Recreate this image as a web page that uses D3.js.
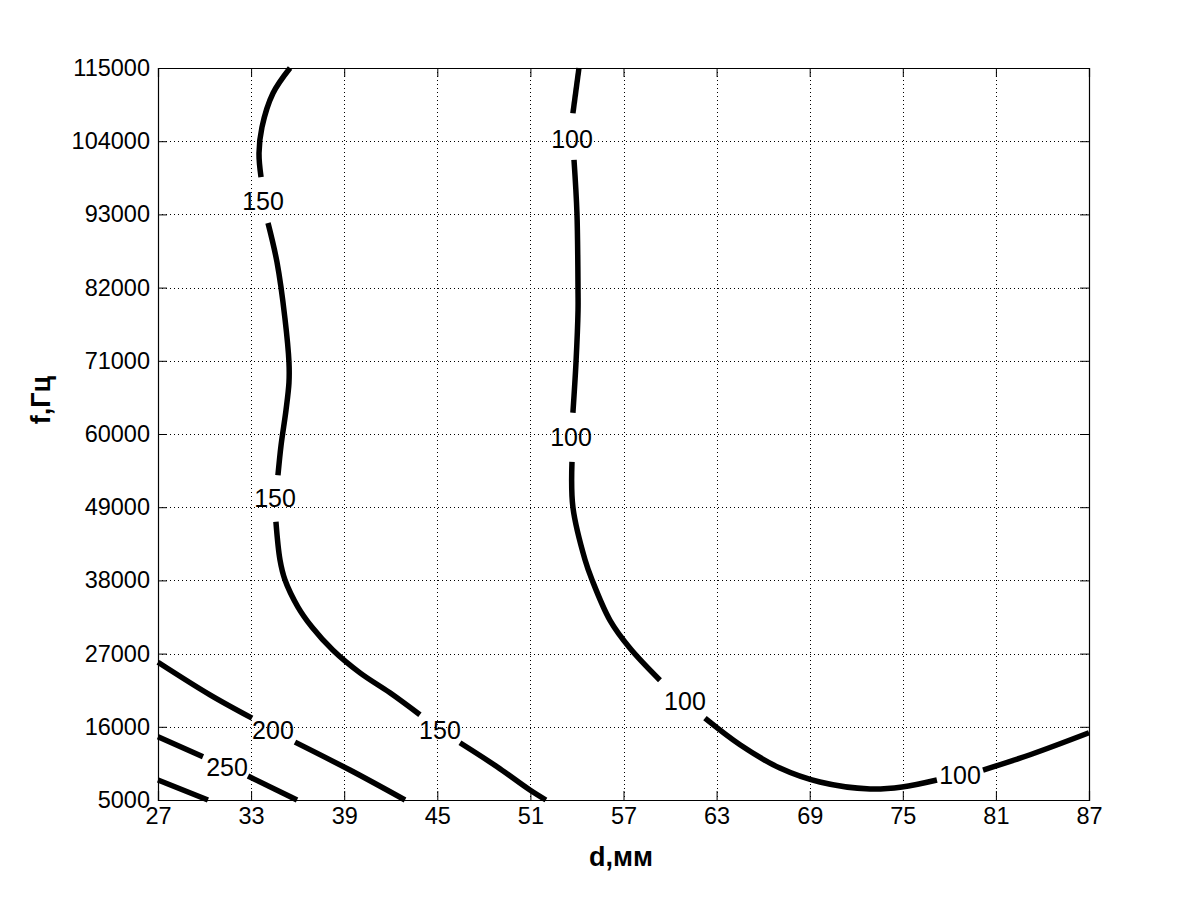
<!DOCTYPE html>
<html>
<head>
<meta charset="utf-8">
<script src="https://cdn.jsdelivr.net/npm/d3@7"></script>
<style>
  body { margin: 0; background: #fff; }
  svg { display: block; }
  text { font-family: "Liberation Sans", Arial, sans-serif; fill: #000; }
</style>
</head>
<body>
<div id="chart"></div>
<script>
// tick values
const xTickValues = [27, 33, 39, 45, 51, 57, 63, 69, 75, 81, 87];
const yTickValues = [5000, 16000, 27000, 38000, 49000, 60000, 71000, 82000, 93000, 104000, 115000];

// contour lines, [d, f] points, split where clabel left a gap
const contour100 = [
  [[54.13, 115000], [53.74, 108200]],
  [[53.81, 101200], [54.0, 93200], [54.07, 81200], [54.07, 78600], [53.94, 70800], [53.74, 63200]],
  [[53.68, 55800], [53.74, 49000], [54.52, 41100], [54.97, 38100], [56.13, 32000], [57.42, 27800], [59.35, 23000]],
  [[62.25, 17300], [64.51, 13300], [67.08, 9800], [69.66, 7700], [72.89, 6650], [74.95, 6950], [77.2, 8000]],
  [[80.17, 9500], [83.2, 11800], [87, 15100]]
];
const contour150 = [
  [[35.51, 115000], [34.41, 111200], [33.7, 106100], [33.51, 102200], [33.64, 98600]],
  [[34.09, 91700], [34.67, 85800], [35.18, 77400], [35.44, 70800], [35.44, 67700], [35.25, 63600], [34.93, 58300], [34.73, 53800]],
  [[34.6, 46800], [34.86, 41100], [35.18, 38100], [36.02, 34000], [36.92, 31000], [38.28, 27500], [40.02, 24100], [41.95, 21100], [43.88, 17800]],
  [[46.46, 13600], [48.85, 10000], [50.97, 6500], [52.0, 5000]]
];
const contour200 = [
  [[27, 25700], [30.35, 20800], [33.06, 17300]],
  [[35.83, 13700], [39.37, 9500], [42.92, 5000]]
];
const contour250 = [
  [[27, 14500], [29.9, 11500]],
  [[32.8, 8600], [35.96, 5000]]
];
const contour300 = [
  [[27, 8000], [30.22, 5000]]
];

// label positions [d, f, level]
const contourLabels = [
  [53.68, 104300, 100], [53.62, 59500, 100], [60.96, 19900, 100], [78.69, 8750, 100],
  [33.77, 95000, 150], [34.54, 50400, 150], [45.17, 15500, 150],
  [34.41, 15500, 200], [31.45, 10000, 250]
];

const width = 1201, height = 900;
const margin = { top: 68, right: 112, bottom: 100, left: 158 };

const svg = d3.select("#chart").append("svg")
  .attr("width", width)
  .attr("height", height);

const x = d3.scaleLinear().domain([27, 87]).range([margin.left, width - margin.right]);
const y = d3.scaleLinear().domain([5000, 115000]).range([height - margin.bottom, margin.top]);

// grid
const grid = svg.append("g").attr("class", "grid");
grid.selectAll(".gx")
  .data(xTickValues.slice(1, -1))
  .enter()
  .append("line")
  .attr("x1", (d) => Math.round(x(d)) + 0.5)
  .attr("x2", (d) => Math.round(x(d)) + 0.5)
  .attr("y1", y(115000))
  .attr("y2", y(5000))
  .attr("stroke", "#000")
  .attr("stroke-width", 1)
  .attr("stroke-dasharray", "1,3");
grid.selectAll(".gy")
  .data(yTickValues.slice(1, -1))
  .enter()
  .append("line")
  .attr("y1", (d) => Math.round(y(d)) + 0.5)
  .attr("y2", (d) => Math.round(y(d)) + 0.5)
  .attr("x1", x(27))
  .attr("x2", x(87))
  .attr("stroke", "#000")
  .attr("stroke-width", 1)
  .attr("stroke-dasharray", "1,3");

// contours
const line = d3.line()
  .x((d) => x(d[0]))
  .y((d) => y(d[1]))
  .curve(d3.curveCatmullRom.alpha(0.5));

const allSegments = [].concat(contour100, contour150, contour200, contour250, contour300);

const plot = svg.append("g").attr("class", "contours");
plot.selectAll("path")
  .data(allSegments)
  .enter()
  .append("path")
  .attr("d", line)
  .attr("fill", "none")
  .attr("stroke", "#000")
  .attr("stroke-width", 5.5)
  .attr("stroke-linejoin", "round");

plot.selectAll("text")
  .data(contourLabels)
  .enter()
  .append("text")
  .attr("x", (d) => x(d[0]))
  .attr("y", (d) => y(d[1]))
  .attr("dy", "0.36em")
  .attr("text-anchor", "middle")
  .style("font-size", "25px")
  .text((d) => d[2]);

// axes, MATLAB style ticks pointing inward
const axisX = d3.axisBottom(x).tickValues(xTickValues).tickSize(-9).tickPadding(7).tickFormat(d3.format("d"));
const axisXTop = d3.axisTop(x).tickValues(xTickValues).tickSize(-9).tickFormat("");
const axisY = d3.axisLeft(y).tickValues(yTickValues).tickSize(-9).tickPadding(8).tickFormat(d3.format("d"));
const axisYRight = d3.axisRight(y).tickValues(yTickValues).tickSize(-9).tickFormat("");

function styleAxis(g) {
  g.select(".domain").attr("stroke", "#000").attr("stroke-width", 1.2);
  g.selectAll(".tick line").attr("stroke", "#000");
  g.selectAll(".tick text").style("font-size", "23.5px").attr("fill", "#000");
}

svg.append("g")
  .attr("transform", `translate(0,${y(5000)})`)
  .call(axisX)
  .call(styleAxis);
svg.append("g")
  .attr("transform", `translate(0,${y(115000)})`)
  .call(axisXTop)
  .call(styleAxis);
svg.append("g")
  .attr("transform", `translate(${x(27)},0)`)
  .call(axisY)
  .call(styleAxis);
svg.append("g")
  .attr("transform", `translate(${x(87)},0)`)
  .call(axisYRight)
  .call(styleAxis);

// axis titles
svg.append("text")
  .attr("x", 621)
  .attr("y", 866)
  .attr("text-anchor", "middle")
  .style("font-size", "27px")
  .style("font-weight", "bold")
  .text("d,мм");

svg.append("text")
  .attr("transform", "translate(50,400) rotate(-90)")
  .attr("text-anchor", "middle")
  .style("font-size", "27px")
  .style("font-weight", "bold")
  .text("f,Гц");
</script>
</body>
</html>
